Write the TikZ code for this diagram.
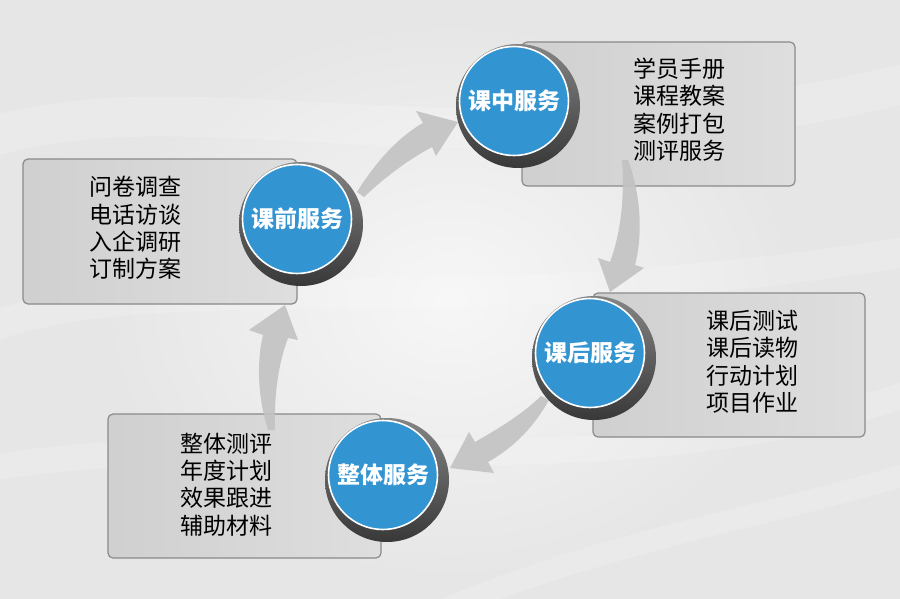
\documentclass[tikz,border=0pt]{standalone}
\usepackage{fontspec}
\setmainfont{Noto Sans CJK SC}
\definecolor{bluec}{HTML}{3394D2}
\definecolor{boxfill}{HTML}{D6D6D6}
\definecolor{boxline}{HTML}{8A8A8A}
\definecolor{arrowc}{HTML}{C2C2C2}
\definecolor{bgc}{HTML}{E6E6E6}
\begin{document}
\begin{tikzpicture}[x=1pt,y=-1pt,
  infobox/.style={rectangle, rounded corners=5pt, draw=boxline, line width=1.2pt,
    left color=boxfill!97!black, right color=boxfill!80!white, inner sep=0pt},
  ring/.style={circle, inner sep=0pt, minimum size=124pt,
    top color=black!48, bottom color=black!78, draw=none},
  disc/.style={circle, inner sep=0pt, minimum size=109pt, fill=bluec,
    draw=white, line width=1.6pt, text=white,
    font=\fontsize{23}{26}\selectfont\bfseries},
  listtext/.style={anchor=west, align=left, inner sep=0pt, text=black,
    font=\fontsize{23}{27.4}\selectfont},
  arrowshape/.style={fill=arrowc, fill opacity=0.9, draw=none}
]
\useasboundingbox (0,0) rectangle (900,599);
% background
\fill[bgc] (0,0) rectangle (900,599);
\shade[inner color=white!65!bgc, outer color=bgc] (100,20) rectangle (800,580);
\begin{scope}[white, opacity=0.16, line cap=round]
  \draw[line width=40pt] (-20,140) .. controls (200,70) and (480,190) .. (920,80);
  \draw[line width=30pt] (-20,330) .. controls (180,260) and (420,330) .. (920,250);
  \draw[line width=26pt] (-20,470) .. controls (250,420) and (600,500) .. (920,390);
  \draw[line width=22pt] (420,620) .. controls (600,540) and (760,520) .. (920,470);
\end{scope}

% boxes
\node[infobox, minimum width=273pt, minimum height=144pt] (b1) at (658.5,114) {};
\node[infobox, minimum width=274pt, minimum height=145pt] (b2) at (160,231.5) {};
\node[infobox, minimum width=272pt, minimum height=144pt] (b3) at (729,365) {};
\node[infobox, minimum width=273pt, minimum height=144pt] (b4) at (244.5,486) {};

% list texts
\node[listtext] (t1) at (633,109.5) {学员手册\\课程教案\\案例打包\\测评服务};
\node[listtext] (t2) at (89,228) {问卷调查\\电话访谈\\入企调研\\订制方案};
\node[listtext] (t3) at (706,362) {课后测试\\课后读物\\行动计划\\项目作业};
\node[listtext] (t4) at (180,484.5) {整体测评\\年度计划\\效果跟进\\辅助材料};

% arrows
\fill[arrowshape] (357,192) .. controls (375,163) and (398,137) .. (423,123)
  -- (416,111) -- (458,122) -- (436,156) -- (432,147)
  .. controls (408,160) and (385,177) .. (364,197) -- cycle;
\fill[arrowshape] (628,160) .. controls (641,195) and (643,235) .. (635,265)
  -- (644,268) -- (610,292) -- (598,258) -- (610,262)
  .. controls (620,235) and (625,200) .. (622,160) -- cycle;
\fill[arrowshape] (549,400) .. controls (535,425) and (515,447) .. (488,462)
  -- (494,473) -- (450,468) -- (469,432) -- (475,442)
  .. controls (500,428) and (525,412) .. (541,396) -- cycle;
\fill[arrowshape] (268,430) .. controls (257,395) and (257,360) .. (263,335)
  -- (249,330) -- (285,305) -- (298,340) -- (288,338)
  .. controls (278,365) and (274,395) .. (275,430) -- cycle;

% circles
\node[ring] (r1) at (518,106) {};
\node[ring] (r2) at (301,224) {};
\node[ring] (r3) at (594,358) {};
\node[ring] (r4) at (387,480) {};
\node[disc] (c1) at (514,101) {课中服务};
\node[disc] (c2) at (297,219) {课前服务};
\node[disc] (c3) at (590,353) {课后服务};
\node[disc] (c4) at (383,475) {整体服务};
\end{tikzpicture}
\end{document}
